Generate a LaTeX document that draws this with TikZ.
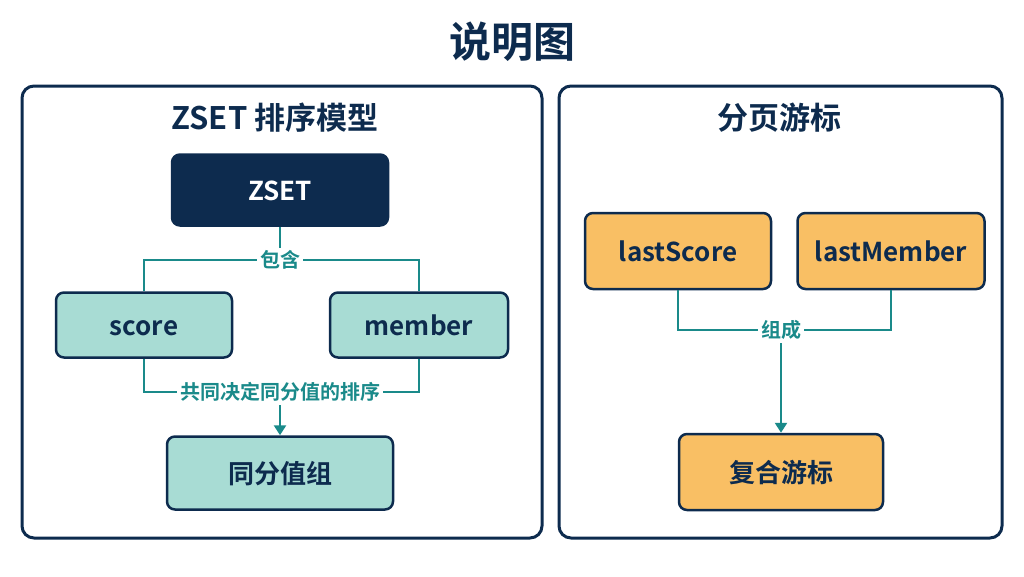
\documentclass[tikz,border=0pt]{standalone}
\usepackage{fontspec}
\setmainfont{Noto Sans CJK SC}[BoldFont={Noto Sans CJK SC Bold}]
\usetikzlibrary{arrows.meta}
\definecolor{navy}{HTML}{0D2B4E}
\definecolor{teal}{HTML}{1A8A8A}
\definecolor{mint}{HTML}{A8DCD4}
\definecolor{orng}{HTML}{F9BF64}
\begin{document}
\begin{tikzpicture}[x=1pt,y=-1pt,
 panel/.style={draw=navy,line width=3pt,rounded corners=12pt},
 box/.style={draw=navy,line width=2.5pt,rounded corners=8pt,font=\fontsize{26}{30}\selectfont\bfseries,text=navy,text height=23pt,text depth=3pt},
 conn/.style={draw=teal,line width=2.5pt},
 lab/.style={fill=white,text=teal,font=\fontsize{20}{24}\selectfont\bfseries,inner sep=3pt},
 ttl/.style={text=navy,font=\fontsize{31}{36}\selectfont\bfseries}]
\useasboundingbox (0,0) rectangle (1024,576);
\node[text=navy,font=\fontsize{42}{48}\selectfont\bfseries] (title) at (512,42) {说明图};
\draw[panel] (22,86) rectangle (542,538);
\draw[panel] (559,86) rectangle (1002,538);
\node[ttl] (lt) at (275,118) {ZSET 排序模型};
\node[ttl] (rt) at (779,118) {分页游标};
\node[box,fill=navy,text=white,minimum width=216pt,minimum height=71pt] (zset) at (280,190) {ZSET};
\node[box,fill=mint,minimum width=176pt,minimum height=65pt] (score) at (144,325) {score};
\node[box,fill=mint,minimum width=178pt,minimum height=65pt] (member) at (419,325) {member};
\node[box,fill=mint,minimum width=226pt,minimum height=73pt] (grp) at (280,473) {同分值组};
\coordinate (c1) at (280,260);
\draw[conn] (zset.south) -- (c1);
\draw[conn] (score.north) |- (c1) -| (member.north);
\node[lab] (l1) at (c1) {包含};
\coordinate (c2) at (280,392);
\draw[conn] (score.south) |- (c2) -| (member.south);
\draw[conn,-{Triangle[length=10pt,width=12pt]}] (c2) -- (grp.north);
\node[lab] (l2) at (c2) {共同决定同分值的排序};
\node[box,fill=orng,minimum width=186pt,minimum height=76pt] (ls) at (678,251) {lastScore};
\node[box,fill=orng,minimum width=187pt,minimum height=76pt] (lm) at (891,251) {lastMember};
\node[box,fill=orng,minimum width=204pt,minimum height=76pt] (cur) at (781,472) {复合游标};
\coordinate (c3) at (781,330);
\draw[conn] (ls.south) |- (c3) -| (lm.south);
\draw[conn,-{Triangle[length=10pt,width=12pt]}] (c3) -- (cur.north);
\node[lab] (l3) at (c3) {组成};
\end{tikzpicture}
\end{document}
